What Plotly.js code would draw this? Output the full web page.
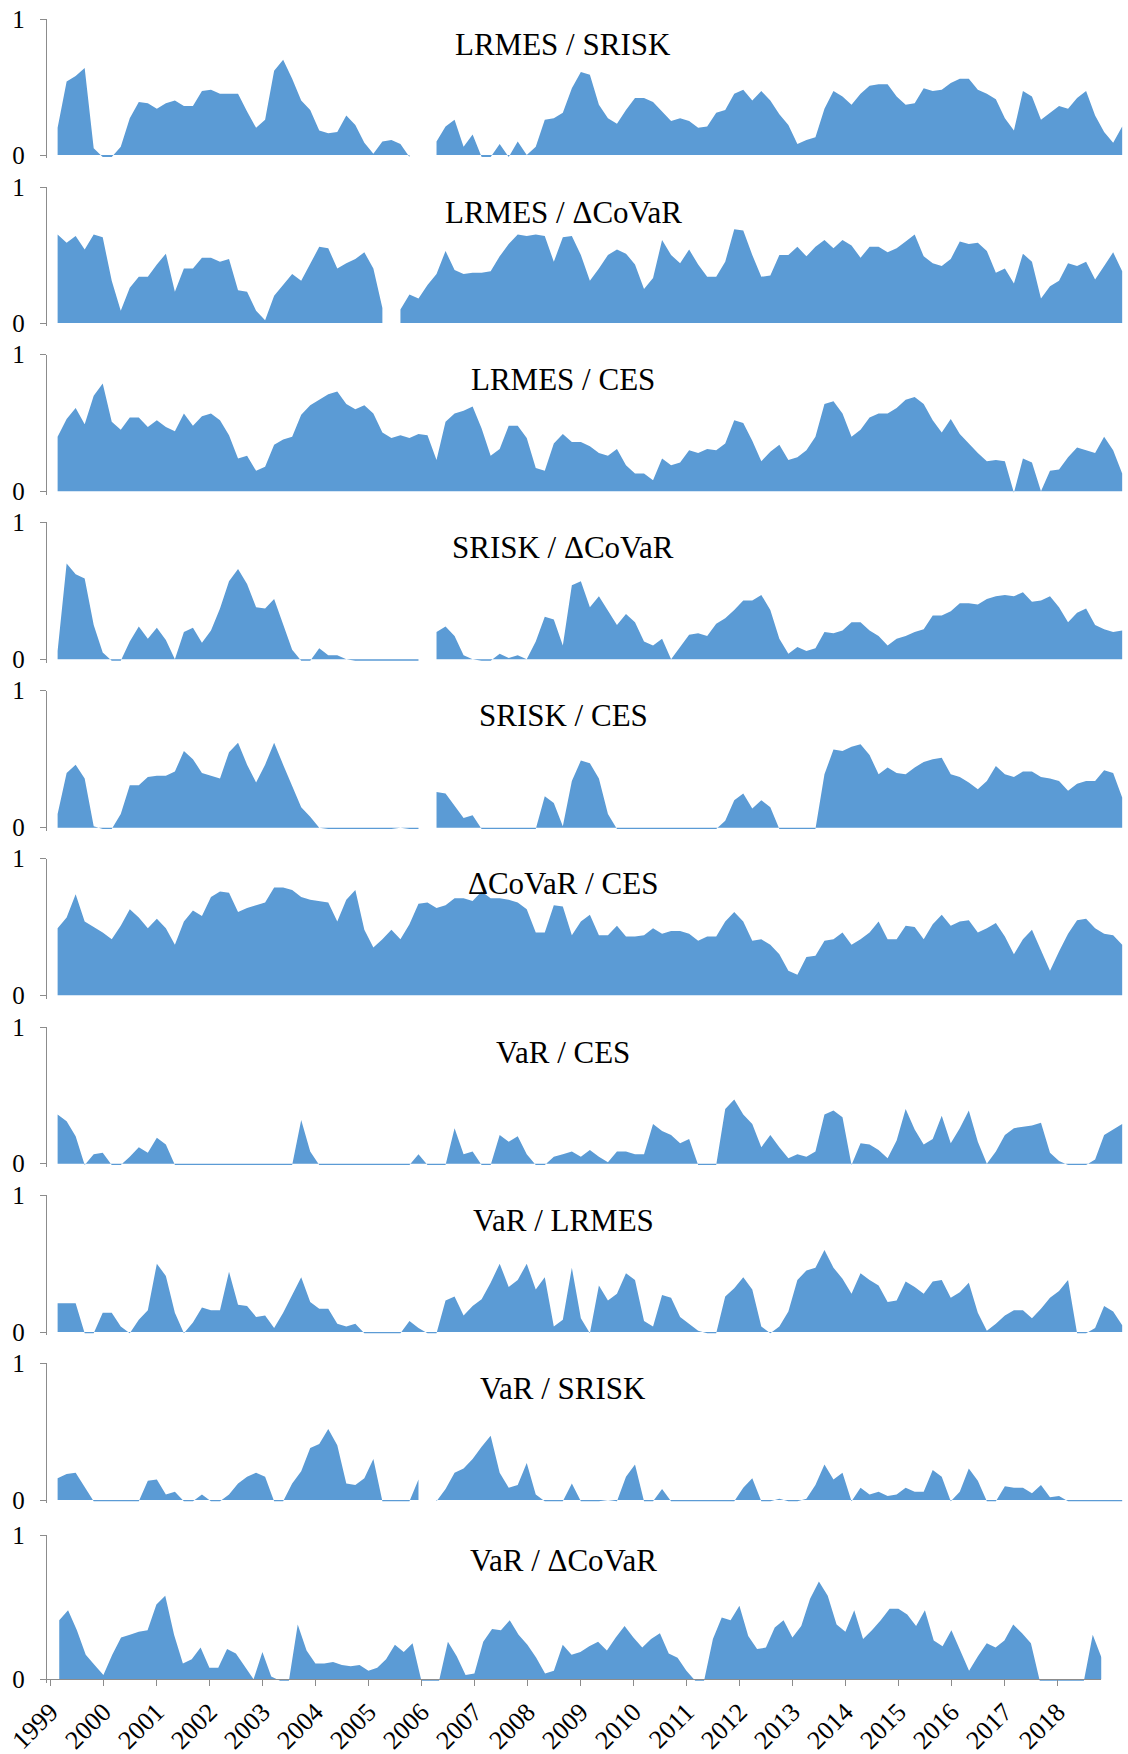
<!DOCTYPE html>
<html>
<head>
<meta charset="utf-8">
<script src="https://cdn.plot.ly/plotly-3.0.1.min.js"></script>
<style>
html,body{margin:0;padding:0;background:#ffffff;}
#chart{width:1128px;height:1754px;}
</style>
</head>
<body>
<div id="chart"></div>
<script>
// ---------------- DATA ----------------
const panelTitles = ["LRMES / SRISK", "LRMES / ΔCoVaR", "LRMES / CES", "SRISK / ΔCoVaR", "SRISK / CES",
                     "ΔCoVaR / CES", "VaR / CES", "VaR / LRMES", "VaR / SRISK", "VaR / ΔCoVaR"];
const yearTicks = [1999,2000,2001,2002,2003,2004,2005,2006,2007,2008,2009,2010,2011,2012,2013,2014,2015,2016,2017,2018];
// sampling: every two months starting March 1999
const firstSampleYear = 1999 + 2/12;
const sampleStepYears = 2/12;

const lrmesSrisk = [0.20,0.54,0.58,0.64,0.05,-0.015,-0.015,0.06,0.27,0.39,
0.38,0.34,0.38,0.40,0.36,0.36,0.47,0.48,0.45,0.45,
0.45,0.32,0.20,0.26,0.62,0.70,0.56,0.40,0.33,0.18,
0.16,0.17,0.29,0.22,0.09,0.01,0.10,0.11,0.08,-0.015,
null,null,0.10,0.21,0.26,0.06,0.15,-0.015,-0.015,0.08,
-0.015,0.10,0.0,0.06,0.26,0.27,0.31,0.49,0.61,0.59,
0.37,0.27,0.23,0.33,0.42,0.42,0.39,0.32,0.25,0.27,
0.25,0.20,0.21,0.31,0.33,0.45,0.48,0.40,0.47,0.40,
0.30,0.22,0.08,0.11,0.13,0.34,0.47,0.43,0.37,0.45,
0.51,0.52,0.52,0.43,0.37,0.38,0.49,0.47,0.48,0.53,
0.56,0.56,0.48,0.45,0.41,0.27,0.18,0.47,0.43,0.26,
0.31,0.36,0.34,0.42,0.47,0.29,0.17,0.09,0.21];

const lrmesCovar = [0.65,0.59,0.64,0.54,0.65,0.63,0.31,0.09,0.26,0.34,
0.34,0.43,0.51,0.23,0.40,0.40,0.48,0.48,0.45,0.47,
0.24,0.23,0.09,0.02,0.20,0.28,0.36,0.31,0.43,0.56,
0.55,0.40,0.44,0.47,0.52,0.40,0.11,null,0.10,0.21,
0.18,0.28,0.36,0.53,0.39,0.36,0.37,0.37,0.38,0.49,
0.58,0.65,0.64,0.65,0.64,0.45,0.63,0.64,0.50,0.31,
0.40,0.50,0.54,0.51,0.43,0.25,0.33,0.61,0.50,0.44,
0.54,0.43,0.34,0.34,0.45,0.69,0.68,0.50,0.34,0.35,
0.50,0.50,0.56,0.49,0.56,0.61,0.55,0.61,0.57,0.48,
0.56,0.56,0.52,0.55,0.60,0.65,0.49,0.44,0.42,0.47,
0.60,0.58,0.59,0.53,0.37,0.40,0.29,0.51,0.45,0.18,
0.27,0.31,0.44,0.42,0.45,0.32,0.42,0.52,0.38];

const lrmesCes = [0.40,0.53,0.61,0.49,0.70,0.79,0.51,0.45,0.54,0.54,
0.47,0.52,0.47,0.44,0.57,0.48,0.55,0.57,0.52,0.41,
0.24,0.26,0.15,0.18,0.34,0.38,0.40,0.56,0.63,0.67,
0.71,0.73,0.64,0.60,0.63,0.57,0.43,0.39,0.41,0.39,
0.42,0.41,0.23,0.51,0.57,0.59,0.62,0.46,0.26,0.31,
0.48,0.48,0.39,0.17,0.15,0.35,0.42,0.36,0.36,0.33,
0.28,0.26,0.31,0.19,0.13,0.13,0.08,0.24,0.19,0.21,
0.30,0.28,0.31,0.30,0.35,0.52,0.50,0.37,0.22,0.29,
0.34,0.23,0.25,0.30,0.40,0.64,0.66,0.57,0.40,0.45,
0.54,0.57,0.57,0.61,0.67,0.69,0.64,0.52,0.43,0.53,
0.42,0.35,0.28,0.22,0.23,0.22,-0.01,0.24,0.21,0.0,
0.15,0.16,0.25,0.32,0.30,0.28,0.40,0.30,0.13];

const sriskCovar = [0.06,0.70,0.62,0.59,0.25,0.05,-0.01,-0.01,0.13,0.24,
0.15,0.23,0.14,0.0,0.20,0.23,0.12,0.21,0.37,0.57,
0.66,0.55,0.38,0.37,0.44,0.25,0.07,-0.01,-0.01,0.08,
0.03,0.03,0.0,-0.01,-0.01,-0.01,-0.01,-0.01,-0.01,-0.01,
-0.01,null,0.20,0.24,0.17,0.03,0.0,-0.01,-0.01,0.04,
0.01,0.03,0.0,0.13,0.31,0.29,0.10,0.54,0.57,0.38,
0.46,0.35,0.25,0.33,0.27,0.13,0.10,0.15,0.0,0.09,
0.18,0.19,0.17,0.26,0.30,0.36,0.43,0.43,0.47,0.36,
0.15,0.04,0.09,0.06,0.08,0.20,0.19,0.21,0.27,0.27,
0.21,0.17,0.10,0.15,0.17,0.20,0.22,0.32,0.32,0.35,
0.41,0.41,0.40,0.44,0.46,0.47,0.46,0.49,0.42,0.43,
0.46,0.38,0.27,0.34,0.37,0.25,0.22,0.20,0.21];

const sriskCes = [0.10,0.40,0.46,0.36,0.01,-0.01,-0.01,0.10,0.31,0.31,
0.37,0.38,0.38,0.41,0.56,0.50,0.40,0.38,0.36,0.55,
0.62,0.46,0.33,0.46,0.62,0.46,0.30,0.15,0.08,0.0,
-0.01,-0.01,-0.01,-0.01,-0.01,-0.01,-0.01,-0.01,0.0,-0.01,
-0.01,null,0.26,0.25,0.16,0.07,0.09,-0.01,-0.01,-0.01,
-0.01,-0.01,-0.01,-0.01,0.23,0.18,0.01,0.34,0.49,0.47,
0.36,0.10,-0.01,-0.01,-0.01,-0.01,-0.01,-0.01,-0.01,-0.01,
-0.01,-0.01,-0.01,-0.01,0.05,0.20,0.25,0.14,0.20,0.15,
-0.01,-0.01,-0.01,-0.01,-0.01,0.39,0.57,0.56,0.59,0.61,
0.53,0.39,0.44,0.40,0.39,0.44,0.48,0.50,0.51,0.39,
0.37,0.33,0.28,0.34,0.45,0.39,0.37,0.41,0.41,0.37,
0.36,0.34,0.27,0.32,0.34,0.34,0.42,0.40,0.22];

const covarCes = [0.49,0.57,0.74,0.54,0.50,0.46,0.41,0.51,0.63,0.57,
0.49,0.56,0.49,0.37,0.54,0.62,0.58,0.72,0.76,0.75,
0.61,0.64,0.66,0.68,0.79,0.79,0.77,0.72,0.70,0.69,
0.68,0.54,0.70,0.77,0.48,0.35,0.41,0.48,0.41,0.52,
0.67,0.68,0.64,0.66,0.71,0.71,0.69,0.76,0.71,0.71,
0.70,0.68,0.63,0.46,0.46,0.66,0.65,0.44,0.54,0.59,
0.44,0.44,0.51,0.43,0.43,0.44,0.49,0.45,0.47,0.47,
0.45,0.40,0.43,0.43,0.54,0.61,0.54,0.40,0.41,0.37,
0.30,0.18,0.15,0.28,0.29,0.40,0.41,0.46,0.37,0.41,
0.46,0.54,0.41,0.41,0.51,0.50,0.41,0.52,0.59,0.51,
0.54,0.55,0.46,0.49,0.53,0.43,0.30,0.41,0.48,0.33,
0.18,0.32,0.45,0.55,0.56,0.49,0.45,0.44,0.37];

const varCes = [0.36,0.31,0.20,-0.01,0.07,0.08,-0.01,-0.01,0.05,0.12,
0.08,0.19,0.14,-0.01,-0.01,-0.01,-0.01,-0.01,-0.01,-0.01,
-0.01,-0.01,-0.01,-0.01,-0.01,-0.01,-0.01,0.32,0.09,-0.01,
-0.01,-0.01,-0.01,-0.01,-0.01,-0.01,-0.01,-0.01,-0.01,-0.01,
0.07,-0.01,-0.01,-0.01,0.26,0.07,0.09,-0.01,-0.01,0.21,
0.16,0.20,0.07,-0.01,-0.01,0.05,0.07,0.09,0.05,0.10,
0.05,0.01,0.09,0.09,0.07,0.07,0.29,0.24,0.21,0.15,
0.18,-0.01,-0.01,-0.01,0.40,0.47,0.36,0.29,0.12,0.21,
0.12,0.04,0.07,0.05,0.09,0.36,0.39,0.34,-0.01,0.15,
0.14,0.10,0.04,0.17,0.40,0.25,0.14,0.18,0.35,0.15,
0.26,0.39,0.16,0.0,0.09,0.21,0.26,0.27,0.28,0.30,
0.08,0.02,-0.01,-0.01,-0.01,0.03,0.21,0.25,0.29];

const varLrmes = [0.21,0.21,0.21,-0.01,-0.01,0.14,0.14,0.04,-0.01,0.09,
0.16,0.50,0.41,0.14,-0.01,0.07,0.18,0.16,0.16,0.44,
0.20,0.19,0.11,0.12,0.03,0.14,0.27,0.40,0.22,0.17,
0.17,0.06,0.04,0.06,-0.01,-0.01,-0.01,-0.01,-0.01,0.08,
0.03,-0.01,-0.01,0.23,0.26,0.12,0.19,0.24,0.36,0.50,
0.33,0.38,0.50,0.31,0.40,0.04,0.09,0.47,0.10,-0.01,
0.34,0.23,0.28,0.43,0.38,0.08,0.04,0.27,0.25,0.11,
0.06,0.01,-0.01,-0.01,0.26,0.32,0.40,0.31,0.04,-0.01,
0.04,0.15,0.38,0.45,0.47,0.60,0.47,0.39,0.28,0.43,
0.38,0.34,0.22,0.23,0.37,0.33,0.28,0.37,0.38,0.25,
0.29,0.36,0.14,0.01,0.06,0.12,0.16,0.16,0.10,0.17,
0.25,0.30,0.38,-0.01,-0.01,0.03,0.19,0.15,0.05];

const varSrisk = [0.16,0.19,0.20,0.09,-0.01,-0.01,-0.01,-0.01,-0.01,-0.01,
0.14,0.15,0.04,0.06,-0.01,-0.01,0.04,-0.01,-0.01,0.04,
0.12,0.17,0.20,0.17,-0.01,-0.01,0.12,0.21,0.38,0.41,
0.52,0.40,0.12,0.11,0.16,0.30,-0.01,-0.01,-0.01,-0.01,
0.15,null,-0.01,0.08,0.20,0.23,0.30,0.39,0.47,0.20,
0.09,0.11,0.27,0.04,-0.01,-0.01,-0.01,0.12,-0.01,-0.01,
-0.01,0.0,-0.01,0.17,0.26,-0.01,-0.01,0.08,-0.01,-0.01,
-0.01,-0.01,-0.01,-0.01,-0.01,-0.01,0.09,0.16,-0.01,-0.01,
0.01,-0.01,-0.01,0.01,0.11,0.26,0.15,0.20,-0.01,0.09,
0.04,0.06,0.03,0.04,0.09,0.06,0.06,0.22,0.17,-0.01,
0.06,0.23,0.14,-0.01,-0.01,0.10,0.09,0.09,0.05,0.11,
0.02,0.03,-0.01,-0.01,-0.01,-0.01,-0.01,-0.01,-0.01];

const varCovar = [0.41,0.48,0.34,0.17,0.10,0.03,0.17,0.29,0.31,0.33,
0.34,0.52,0.58,0.31,0.11,0.14,0.22,0.08,0.08,0.21,
0.18,0.09,0.0,0.19,0.02,-0.01,-0.01,0.38,0.20,0.11,
0.11,0.12,0.10,0.09,0.10,0.06,0.08,0.14,0.24,0.19,
0.25,-0.01,-0.01,-0.01,0.26,0.16,0.03,0.04,0.26,0.35,
0.34,0.41,0.31,0.24,0.15,0.04,0.06,0.24,0.17,0.19,
0.23,0.26,0.20,0.29,0.37,0.29,0.22,0.28,0.32,0.18,
0.15,0.06,-0.01,-0.01,0.28,0.43,0.41,0.51,0.30,0.21,
0.22,0.36,0.41,0.29,0.37,0.56,0.68,0.58,0.38,0.33,
0.48,0.28,0.34,0.41,0.49,0.49,0.45,0.37,0.48,0.27,
0.23,0.34,0.20,0.06,0.16,0.25,0.22,0.27,0.38,0.32,
0.25,-0.01,-0.01,-0.01,-0.01,-0.01,-0.01,0.31,0.15];

const panelSeries = [lrmesSrisk, lrmesCovar, lrmesCes, sriskCovar, sriskCes,
                     covarCes, varCes, varLrmes, varSrisk, varCovar];

// ---------------- LAYOUT ----------------
const W = 1128, H = 1754;
const FILL = '#5B9BD5';
const AXIS_GRAY = '#8c8c8c';
const FONT = '"Liberation Serif", "Times New Roman", Times, serif';
const panelTopPx  = [19, 187, 354.7, 522.3, 690.7, 858.7, 1027, 1195.3, 1363.3, 1535.3];
const panelZeroPx = [155, 323, 491.3, 659.3, 827.7, 995.3, 1163.7, 1332, 1500, 1679.3];
const yMin = -0.025, yMax = 1;

const traces = [];
const layout = {
  width: W, height: H,
  margin: {l: 0, r: 0, t: 0, b: 0, pad: 0},
  paper_bgcolor: '#ffffff', plot_bgcolor: 'rgba(0,0,0,0)',
  showlegend: false,
  annotations: [],
  font: {family: FONT, color: '#000000'}
};

panelSeries.forEach((vals, i) => {
  const n = i + 1;
  const suffix = (n === 1 ? '' : String(n));
  const xs = vals.map((v, k) => firstSampleYear + k * sampleStepYears);

  // split into runs of existing data so missing months leave a blank gap
  let segX = [], segY = [];
  const flush = () => {
    if (segX.length) {
      traces.push({
        type: 'scatter', mode: 'lines',
        x: segX, y: segY,
        xaxis: 'x' + suffix, yaxis: 'y' + suffix,
        fill: 'tozeroy', fillcolor: FILL,
        line: {width: 0, color: FILL},
        hoverinfo: 'skip'
      });
    }
    segX = []; segY = [];
  };
  vals.forEach((v, k) => {
    if (v === null) { flush(); } else { segX.push(xs[k]); segY.push(v); }
  });
  flush();

  const T = panelTopPx[i], Z = panelZeroPx[i];
  const B = Z + (0 - yMin) * (Z - T);
  const ydom = [1 - B / H, 1 - T / H];
  const isLast = (i === panelSeries.length - 1);

  layout['yaxis' + suffix] = {
    domain: ydom,
    anchor: 'x' + suffix,
    range: [yMin, yMax],
    tickvals: [0, 1], ticktext: ['0', '1'],
    showline: true, linecolor: AXIS_GRAY, linewidth: 1,
    ticks: 'outside', ticklen: 6, tickcolor: AXIS_GRAY, tickwidth: 1,
    ticklabelstandoff: 10,
    tickfont: {family: FONT, size: 25, color: '#000000'},
    showgrid: false, zeroline: false, fixedrange: true
  };

  if (!isLast) {
    layout['xaxis' + suffix] = {
      domain: [46.8 / W, 1124 / W],
      anchor: 'y' + suffix,
      range: [1998.967, 2018.867],
      showline: false, showticklabels: false, ticks: '',
      showgrid: false, zeroline: false, fixedrange: true
    };
  } else {
    layout['xaxis' + suffix] = {
      domain: [46.8 / W, 1101.4 / W],
      anchor: 'free', position: 1 - Z / H,
      range: [1998.932, 2018.83],
      tickvals: yearTicks, ticktext: yearTicks.map(String),
      tickangle: -45,
      showline: true, linecolor: AXIS_GRAY, linewidth: 1,
      ticks: 'outside', ticklen: 6, tickcolor: AXIS_GRAY, tickwidth: 1,
      ticklabelstandoff: 0,
      tickfont: {family: FONT, size: 26, color: '#000000'},
      showgrid: false, zeroline: false, fixedrange: true
    };
  }

  layout.annotations.push({
    xref: 'paper', yref: 'paper',
    x: 563 / W, y: 1 - (T + 25) / H,
    xanchor: 'center', yanchor: 'middle',
    text: panelTitles[i], showarrow: false,
    font: {family: FONT, size: 31, color: '#000000'}
  });
});

Plotly.newPlot('chart', traces, layout, {displayModeBar: false, staticPlot: true});
</script>
</body>
</html>
